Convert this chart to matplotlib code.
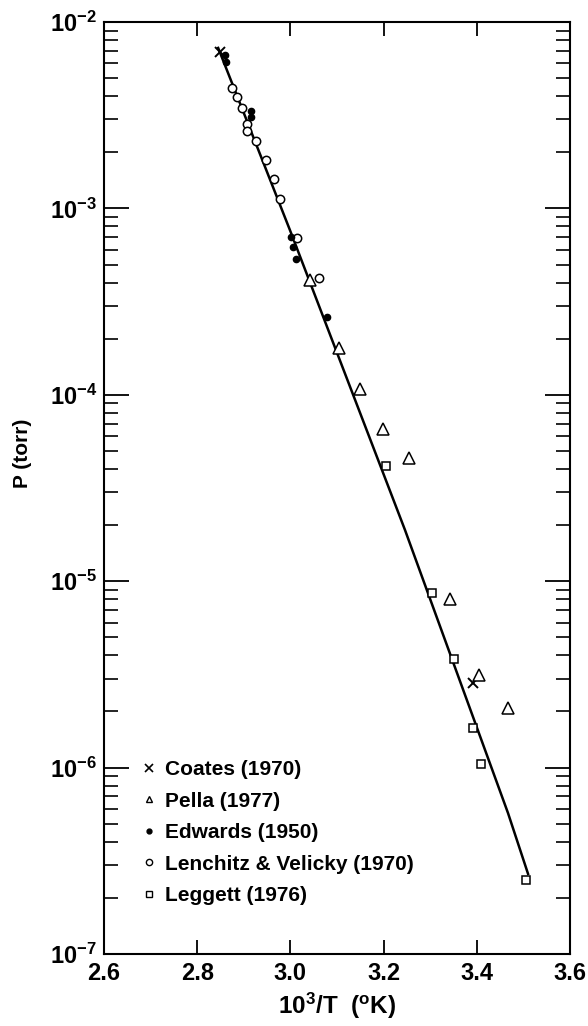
import matplotlib
matplotlib.use("Agg")
import matplotlib.pyplot as plt
from matplotlib.lines import Line2D
from matplotlib.ticker import LogLocator, NullFormatter

plt.rcParams['font.family'] = ['Liberation Sans', 'DejaVu Sans']
plt.rcParams['font.weight'] = 'bold'
plt.rcParams['mathtext.fontset'] = 'custom'
plt.rcParams['mathtext.rm'] = 'Liberation Sans:bold'
plt.rcParams['mathtext.bf'] = 'Liberation Sans:bold'
plt.rcParams['mathtext.it'] = 'Liberation Sans:bold'

# ---- data ----
coates_x = [2.849, 3.391]
coates_p = [6.9e-3, 2.85e-6]

pella_x = [3.042, 3.105, 3.149, 3.199, 3.255, 3.342, 3.405, 3.468]
pella_p = [4.13e-4, 1.78e-4, 1.08e-4, 6.56e-5, 4.6e-5, 8.04e-6, 3.14e-6, 2.1e-6]

edwards_x = [2.860, 2.862, 2.915, 2.915, 3.001, 3.006, 3.012, 3.079]
edwards_p = [6.65e-3, 6.1e-3, 3.33e-3, 3.09e-3, 7.05e-4, 6.18e-4, 5.33e-4, 2.62e-4]

lenchitz_x = [2.874, 2.886, 2.897, 2.906, 2.906, 2.926, 2.948, 2.965, 2.978, 3.015, 3.062]
lenchitz_p = [4.41e-3, 3.94e-3, 3.44e-3, 2.84e-3, 2.60e-3, 2.30e-3, 1.82e-3, 1.44e-3,
              1.13e-3, 6.97e-4, 4.25e-4]

leggett_x = [3.205, 3.303, 3.351, 3.391, 3.408, 3.506]
leggett_p = [4.15e-5, 8.67e-6, 3.81e-6, 1.63e-6, 1.05e-6, 2.49e-7]

fit_x = [2.845, 2.999, 3.246, 3.467, 3.510]
fit_p = [7.26e-3, 7.65e-4, 1.88e-5, 5.7e-7, 2.69e-7]

legend_labels = ["Coates (1970)", "Pella (1977)", "Edwards (1950)",
                 "Lenchitz & Velicky (1970)", "Leggett (1976)"]

x_ticks = [2.6, 2.8, 3.0, 3.2, 3.4, 3.6]
x_ticklabels = ["2.6", "2.8", "3.0", "3.2", "3.4", "3.6"]
y_ticks = [1e-7, 1e-6, 1e-5, 1e-4, 1e-3, 1e-2]
y_ticklabels = [r"$10^{-7}$", r"$10^{-6}$", r"$10^{-5}$", r"$10^{-4}$",
                r"$10^{-3}$", r"$10^{-2}$"]

# ---- figure ----
fig = plt.figure(figsize=(5.88, 10.26), dpi=100)
ax = fig.add_axes([104/588, 72/1026, 466/588, 932/1026])

ax.plot(fit_x, fit_p, color='black', lw=1.8, zorder=2)

mew = 1.1
ax.plot(coates_x, coates_p, ls='none', marker='x', ms=7, mew=1.4, color='black', zorder=3)
ax.plot(pella_x, pella_p, ls='none', marker='^', ms=8.5, mew=mew, mfc='white', mec='black', zorder=3)
ax.plot(edwards_x, edwards_p, ls='none', marker='o', ms=4.5, mfc='black', mec='black', zorder=4)
ax.plot(lenchitz_x, lenchitz_p, ls='none', marker='o', ms=6, mew=mew, mfc='white', mec='black', zorder=3)
ax.plot(leggett_x, leggett_p, ls='none', marker='s', ms=6, mew=mew, mfc='white', mec='black', zorder=3)

ax.set_yscale('log')
ax.set_xlim(2.6, 3.6)
ax.set_ylim(1e-7, 1e-2)

ax.set_xticks(x_ticks)
ax.set_xticklabels(x_ticklabels, fontsize=17, fontweight='bold')
ax.set_yticks(y_ticks)
ax.set_yticklabels(y_ticklabels, fontsize=17)
ax.yaxis.set_minor_locator(LogLocator(base=10, subs=[2, 3, 4, 5, 6, 7, 8, 9]))
ax.yaxis.set_minor_formatter(NullFormatter())

ax.tick_params(axis='x', which='major', direction='in', length=10, width=1.3,
               top=True, bottom=True, pad=6)
ax.tick_params(axis='y', which='major', direction='in', length=18, width=1.3,
               left=True, right=True, pad=5)
ax.tick_params(axis='y', which='minor', direction='in', length=10, width=1.2,
               left=True, right=True)

for s in ax.spines.values():
    s.set_linewidth(1.5)

ax.set_xlabel(r"$10^3$/T  ($^{\rm o}$K)", fontsize=17.5, fontweight='bold', labelpad=4)
ax.set_ylabel("P (torr)", fontsize=15, fontweight='bold')
ax.yaxis.set_label_coords(-0.155, 0.5375)

handles = [
    Line2D([], [], ls='none', marker='x', ms=6, mew=1.2, color='black'),
    Line2D([], [], ls='none', marker='^', ms=5, mew=1.0, mfc='white', mec='black'),
    Line2D([], [], ls='none', marker='o', ms=3.5, mfc='black', mec='black'),
    Line2D([], [], ls='none', marker='o', ms=4.5, mew=1.0, mfc='white', mec='black'),
    Line2D([], [], ls='none', marker='s', ms=4.5, mew=1.0, mfc='white', mec='black'),
]
leg = ax.legend(handles, legend_labels, loc='upper left', bbox_to_anchor=(0.06, 0.217),
                frameon=False, handlelength=0.8, handletextpad=0.4, labelspacing=0.6,
                prop={'size': 15, 'weight': 'bold'}, borderaxespad=0)

fig.savefig("out.png", dpi=100)
